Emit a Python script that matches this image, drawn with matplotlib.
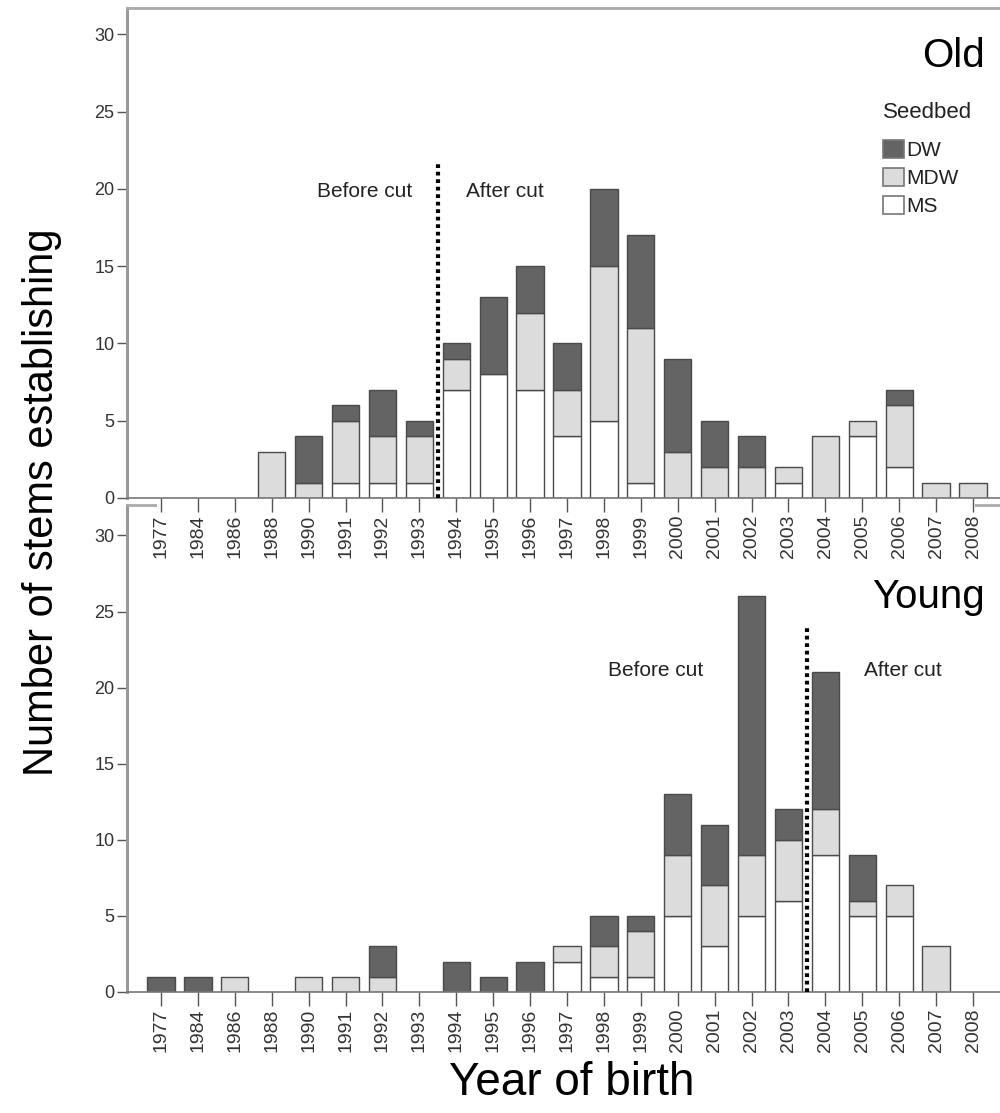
import numpy as np
import matplotlib
matplotlib.use("Agg")
import matplotlib.pyplot as plt
from matplotlib.patches import Rectangle

plt.rcParams['font.family'] = ['Liberation Sans', 'DejaVu Sans']

years = ["1977", "1984", "1986", "1988", "1990", "1991", "1992", "1993", "1994",
         "1995", "1996", "1997", "1998", "1999", "2000", "2001", "2002", "2003",
         "2004", "2005", "2006", "2007", "2008"]

# Old stand
old_ms  = [0, 0, 0, 0, 0, 1, 1, 1, 7, 8, 7, 4, 5, 1, 0, 0, 0, 1, 0, 4, 2, 0, 0]
old_mdw = [0, 0, 0, 3, 1, 4, 3, 3, 2, 0, 5, 3, 10, 10, 3, 2, 2, 1, 4, 1, 4, 1, 1]
old_dw  = [0, 0, 0, 0, 3, 1, 3, 1, 1, 5, 3, 3, 5, 6, 6, 3, 2, 0, 0, 0, 1, 0, 0]

# Young stand
young_ms  = [0, 0, 0, 0, 0, 0, 0, 0, 0, 0, 0, 2, 1, 1, 5, 3, 5, 6, 9, 5, 5, 0, 0]
young_mdw = [0, 0, 1, 0, 1, 1, 1, 0, 0, 0, 0, 1, 2, 3, 4, 4, 4, 4, 3, 1, 2, 3, 0]
young_dw  = [1, 1, 0, 0, 0, 0, 2, 0, 2, 1, 2, 0, 2, 1, 4, 4, 17, 2, 9, 3, 0, 0, 0]

series_names = ["MS", "MDW", "DW"]
series_colors = ["#ffffff", "#dcdcdc", "#646464"]

old_cut_pos, old_cut_height = 7.5, 21.7
young_cut_pos, young_cut_height = 17.5, 24.0

W, H = 1000, 1113
fig = plt.figure(figsize=(W / 100, H / 100), dpi=100)

ax1 = fig.add_axes([127 / W, (H - 498) / H, 880 / W, 490 / H])
ax2 = fig.add_axes([127 / W, (H - 992) / H, 880 / W, 487 / H])
ax1.set_zorder(3)
ax2.set_zorder(1)
ax1.patch.set_alpha(0)
ax2.patch.set_alpha(0)

x = np.arange(len(years))
bw = 0.74


def draw_panel(ax, ms, mdw, dw, ymax):
    ms = np.array(ms); mdw = np.array(mdw); dw = np.array(dw)
    conts = []
    bottom = np.zeros(len(x))
    for vals, col, name in zip([ms, mdw, dw], series_colors, series_names):
        lw = [1.0 if v > 0 else 0.0 for v in vals]
        c = ax.bar(x, vals, bw, bottom=bottom, color=col, edgecolor="#4a4a4a",
                   linewidth=lw, label=name, zorder=2)
        conts.append(c)
        bottom = bottom + vals
    ax.set_xlim(-0.92, len(x) - 1 + 0.92)
    ax.set_ylim(0, ymax)
    ax.set_yticks(np.arange(0, 31, 5))
    ax.set_xticks(x)
    ax.set_xticklabels(years, rotation=90)
    ax.tick_params(axis='y', direction='out', length=7, width=1, color="#555555",
                   labelsize=13, labelcolor="#333333", pad=2)
    ax.tick_params(axis='x', direction='out', length=10, width=1, color="#555555",
                   labelsize=14, labelcolor="#333333", pad=2)
    ax.spines['left'].set_color("#999999")
    ax.spines['left'].set_linewidth(2.2)
    ax.spines['bottom'].set_color("#777777")
    ax.spines['bottom'].set_linewidth(1.2)
    ax.spines['top'].set_color("#aaaaaa")
    ax.spines['top'].set_linewidth(2)
    ax.spines['right'].set_visible(False)
    return conts


c1 = draw_panel(ax1, old_ms, old_mdw, old_dw, 31.7)
c2 = draw_panel(ax2, young_ms, young_mdw, young_dw, 32.0)

# cut lines
ax1.vlines(old_cut_pos, 0, old_cut_height, colors="black", linewidth=3.0,
           linestyles=(0, (0.9, 0.9)), zorder=4)
ax2.vlines(young_cut_pos, 0, young_cut_height, colors="black", linewidth=3.0,
           linestyles=(0, (0.9, 0.9)), zorder=4)

ax1.text(5.53, 19.8, "Before cut", ha="center", va="center", fontsize=15, color="#222222")
ax1.text(9.32, 19.8, "After cut", ha="center", va="center", fontsize=15, color="#222222")
ax2.text(13.41, 21.1, "Before cut", ha="center", va="center", fontsize=15, color="#222222")
ax2.text(20.1, 21.1, "After cut", ha="center", va="center", fontsize=15, color="#222222")

ax1.text(0.975, 0.902, "Old", transform=ax1.transAxes, ha="right", va="center",
         fontsize=29, color="black")
ax2.text(0.975, 0.811, "Young", transform=ax2.transAxes, ha="right", va="center",
         fontsize=29, color="black")

leg = ax1.legend(handles=[c1[2], c1[1], c1[0]], labels=["DW", "MDW", "MS"],
                 title="Seedbed", loc="upper left",
                 bbox_to_anchor=((883 - 127) / 880, 1 - (102 - 8) / 490),
                 frameon=False, fontsize=15, title_fontsize=16,
                 handlelength=1.0, handleheight=1.0, handletextpad=0.1,
                 labelspacing=0.36, borderpad=0, borderaxespad=0,
                 alignment="left")
leg._legend_box.sep = 12
for t in leg.get_texts():
    t.set_color("#222222")
leg.get_title().set_color("#222222")
for h in leg.legend_handles:
    h.set_edgecolor("#777777")
    h.set_linewidth(1.2)

# hide the young panel's top border behind the old panel's labels
fig.add_artist(Rectangle((157 / W, (H - 511) / H), (975 - 157) / W, 9 / H,
                         transform=fig.transFigure, facecolor="white",
                         edgecolor="none", zorder=2))

fig.text(42 / W, 1 - 502 / H, "Number of stems establishing", rotation=90,
         ha="center", va="center", fontsize=30, color="black")
fig.text(572 / W, 1 - 1083 / H, "Year of birth", ha="center", va="center",
         fontsize=33, color="black")

fig.savefig("out.png", dpi=100, facecolor="white")
